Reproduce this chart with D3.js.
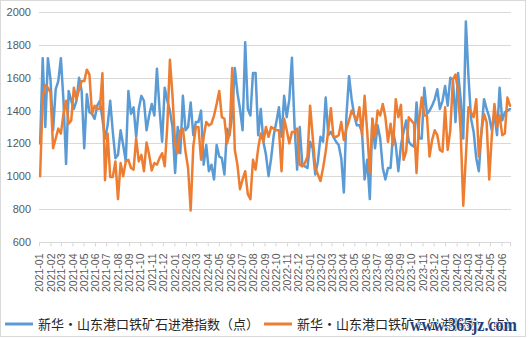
<!DOCTYPE html>
<html>
<head>
<meta charset="utf-8">
<script src="https://cdn.jsdelivr.net/npm/d3@7"></script>
<style>
  html, body { margin: 0; padding: 0; background: #fff; }
  svg { display: block; }
  .axis text { font-family: "Liberation Sans", Arial, sans-serif; fill: #595959; }
</style>
</head>
<body>
<svg id="chart" width="529" height="338"></svg>
<script>
// Weekly readings, first week starting 2021-01-04
const firstWeek = new Date(2021, 0, 4);

const seriesNames = [
  "新华・山东港口铁矿石进港指数（点）",
  "新华・山东港口铁矿石出港指数（点）"
];

const inboundIndex = [
  1200, 1720, 1300, 1720, 1590, 1280, 1530, 1580, 1720, 1460,
  1075, 1520, 1460, 1410, 1460, 1600, 1520, 1170, 1500, 1390,
  1380, 1350, 1430, 1460, 1350, 1230, 1310, 1460, 1270, 1110,
  1130, 1280, 1190, 1090, 1520, 1380, 1420, 1240, 1410, 1490,
  1460, 1280, 1370, 1440, 1370, 1655, 1410, 1210, 1540, 1460,
  1400, 1300, 1020, 1300, 1140, 1490, 1280, 1300, 1450,
  1250, 1330,
  1330, 1400, 1070, 1190, 1030, 1070, 980, 1190, 1120, 1110,
  1010, 1290, 1250, 1380, 1660, 1510, 1410, 1280, 1817, 1410,
  1370, 1630, 1630, 1250, 1410, 1210, 1130, 1000, 1110, 1250,
  1330, 1420, 1240, 1490, 1360, 1470, 1723, 1310, 1040, 1300,
  1070, 1060, 1050, 1210, 1170, 1010, 1090, 1240, 1210, 1480,
  1250, 1270, 1240, 1210, 1190, 1110, 900, 1370, 1610, 1470,
  1370, 1310,
  1310, 1270, 980, 1100, 860, 1350, 1170, 1310, 1230, 1050,
  980, 1050, 1050, 1270, 1190, 1030, 1190, 1270, 1340, 1210,
  1190, 1180, 1450, 1230, 1230, 1540, 1380, 1400, 1430, 1470,
  1530, 1410, 1460, 1550, 1430, 1600, 1590, 1330, 1630, 1470,
  1230, 1944, 1610, 1350, 1270, 1110, 1030, 1270, 1470, 1410,
  1360, 1280, 1380, 1250, 1540, 1340, 1390, 1400, 1410
];

const outboundIndex = [
  1000, 1480, 1555, 1540, 1510, 1170, 1230, 1290, 1260, 1380,
  1460, 1320, 1340, 1540, 1470, 1530, 1580, 1580, 1650, 1620,
  1380, 1430, 1410, 1410, 1628, 975, 1260, 995, 995, 1090,
  860, 1080, 1000, 1090, 1100, 1050, 1040, 1230, 1090, 1130,
  1030, 1205, 1130, 1035, 1080, 1070, 1110, 1140, 1060, 1310,
  1710, 1490, 1200, 1140, 1280, 1290, 1150, 1050, 790,
  1180, 1300,
  1300, 1100, 1240, 1330, 1310, 1320, 1370, 1440, 1520, 1360,
  1350, 1200, 1260, 1660, 1160, 1070, 920, 980, 1030, 890,
  860, 1100, 1040, 1170, 1260, 1210, 1300, 1240, 1300, 1290,
  1280, 1280, 1030, 1350, 1280, 1200, 1270, 1270, 1290, 1070,
  1060, 1080, 1120, 1430, 1240, 1050, 1010, 970, 1050, 1150,
  1280, 1415, 1240, 1240, 1250, 1330, 1220, 1290, 1340, 1400,
  1370, 1340,
  1420, 1250, 1490, 1270, 1020, 1350, 1240, 1400, 1370, 1440,
  1360, 1210, 1320, 1190, 1470, 1360, 1435, 1100, 1150, 1360,
  1340, 1320, 1020, 1340, 1480, 1370, 1370, 1120, 1220, 1280,
  1250, 1160, 1150, 1420, 1160, 1280, 1590, 1620, 1520, 1270,
  820, 1120, 1420, 1390, 1360, 1470, 1120, 1270, 1380, 1330,
  980, 1250, 1440, 1300, 1370, 1250, 1260, 1480, 1430
];

const yTicks = [600, 800, 1000, 1200, 1400, 1600, 1800, 2000];
const seriesColors = ["#5b9bd5", "#ed7d31"];

const weeks = inboundIndex.map((_, i) => d3.timeDay.offset(firstWeek, 7 * i));
const monthTicks = d3.timeMonth.range(new Date(2021, 0, 1), new Date(2024, 6, 1));
const fmtMonth = d3.timeFormat("%Y-%m");

const svg = d3.select("#chart");

// outer frame
svg.append("rect")
  .attr("x", 0.5).attr("y", 0.5)
  .attr("width", 525).attr("height", 336)
  .attr("fill", "#fff").attr("stroke", "#d9d9d9");

const plot = { left: 39, right: 510, top: 12.3, bottom: 241.7 };

const x = d3.scaleTime()
  .domain([new Date(2021, 0, 1), weeks[weeks.length - 1]])
  .range([plot.left, plot.right]);

const y = d3.scaleLinear()
  .domain([600, 2000])
  .range([plot.bottom, plot.top]);

// horizontal gridlines
svg.append("g")
  .selectAll("line")
  .data(yTicks.filter(v => v > 600))
  .join("line")
  .attr("x1", plot.left).attr("x2", plot.right + 1)
  .attr("y1", d => Math.round(y(d)) + 0.5)
  .attr("y2", d => Math.round(y(d)) + 0.5)
  .attr("stroke", "#d9d9d9").attr("stroke-width", 1);

// y axis labels
const yAxis = svg.append("g")
  .attr("class", "axis")
  .attr("transform", `translate(${plot.left},0)`)
  .call(d3.axisLeft(y).tickValues(yTicks).tickFormat(d3.format("d")).tickSize(0).tickPadding(8));
yAxis.select(".domain").remove();
yAxis.selectAll("text").style("font-size", "11px");

// x axis with monthly ticks
const xAxis = svg.append("g")
  .attr("class", "axis")
  .attr("transform", `translate(0,${Math.round(plot.bottom) + 0.5})`)
  .call(d3.axisBottom(x).tickValues(monthTicks).tickFormat(fmtMonth).tickSize(4).tickSizeOuter(0));
xAxis.select(".domain")
  .attr("d", `M${plot.left},0H${plot.right + 1}`)
  .attr("stroke", "#d9d9d9");
xAxis.selectAll(".tick line").attr("stroke", "#d9d9d9");
xAxis.append("line")
  .attr("x1", plot.right + 0.5).attr("x2", plot.right + 0.5)
  .attr("y1", 0).attr("y2", 4)
  .attr("stroke", "#d9d9d9");
xAxis.selectAll(".tick text")
  .attr("transform", "rotate(-90)")
  .attr("x", -11).attr("y", 0)
  .attr("dy", "0.35em")
  .attr("text-anchor", "end")
  .style("font-size", "10.5px");

// series lines
const line = d3.line()
  .x((d, i) => x(weeks[i]))
  .y(d => y(d));

[inboundIndex, outboundIndex].forEach((vals, k) => {
  svg.append("path")
    .datum(vals)
    .attr("d", line)
    .attr("fill", "none")
    .attr("stroke", seriesColors[k])
    .attr("stroke-width", 2.5)
    .attr("stroke-linejoin", "round")
    .attr("stroke-linecap", "round");
});

// legend
const legendItems = [
  { x0: 5, tx: 38 },
  { x0: 264, tx: 297 }
];
legendItems.forEach((it, k) => {
  svg.append("line")
    .attr("x1", it.x0).attr("x2", it.x0 + 28)
    .attr("y1", 324).attr("y2", 324)
    .attr("stroke", seriesColors[k])
    .attr("stroke-width", 3);
  svg.append("text")
    .attr("x", it.tx).attr("y", 329)
    .attr("font-family", "'Noto Sans CJK SC', sans-serif")
    .attr("font-size", 13)
    .attr("fill", "#262626")
    .text(seriesNames[k]);
});

// site mark over the lower right corner
svg.append("text")
  .attr("x", 410).attr("y", 331)
  .attr("textLength", 107)
  .attr("lengthAdjust", "spacingAndGlyphs")
  .attr("font-family", "'Liberation Serif', serif")
  .attr("font-weight", "bold")
  .attr("font-size", 19)
  .attr("fill", "#1f3f7a")
  .attr("stroke", "#ffffff")
  .attr("stroke-width", 1.5)
  .attr("paint-order", "stroke")
  .text("www.365jz.com");
</script>
</body>
</html>
